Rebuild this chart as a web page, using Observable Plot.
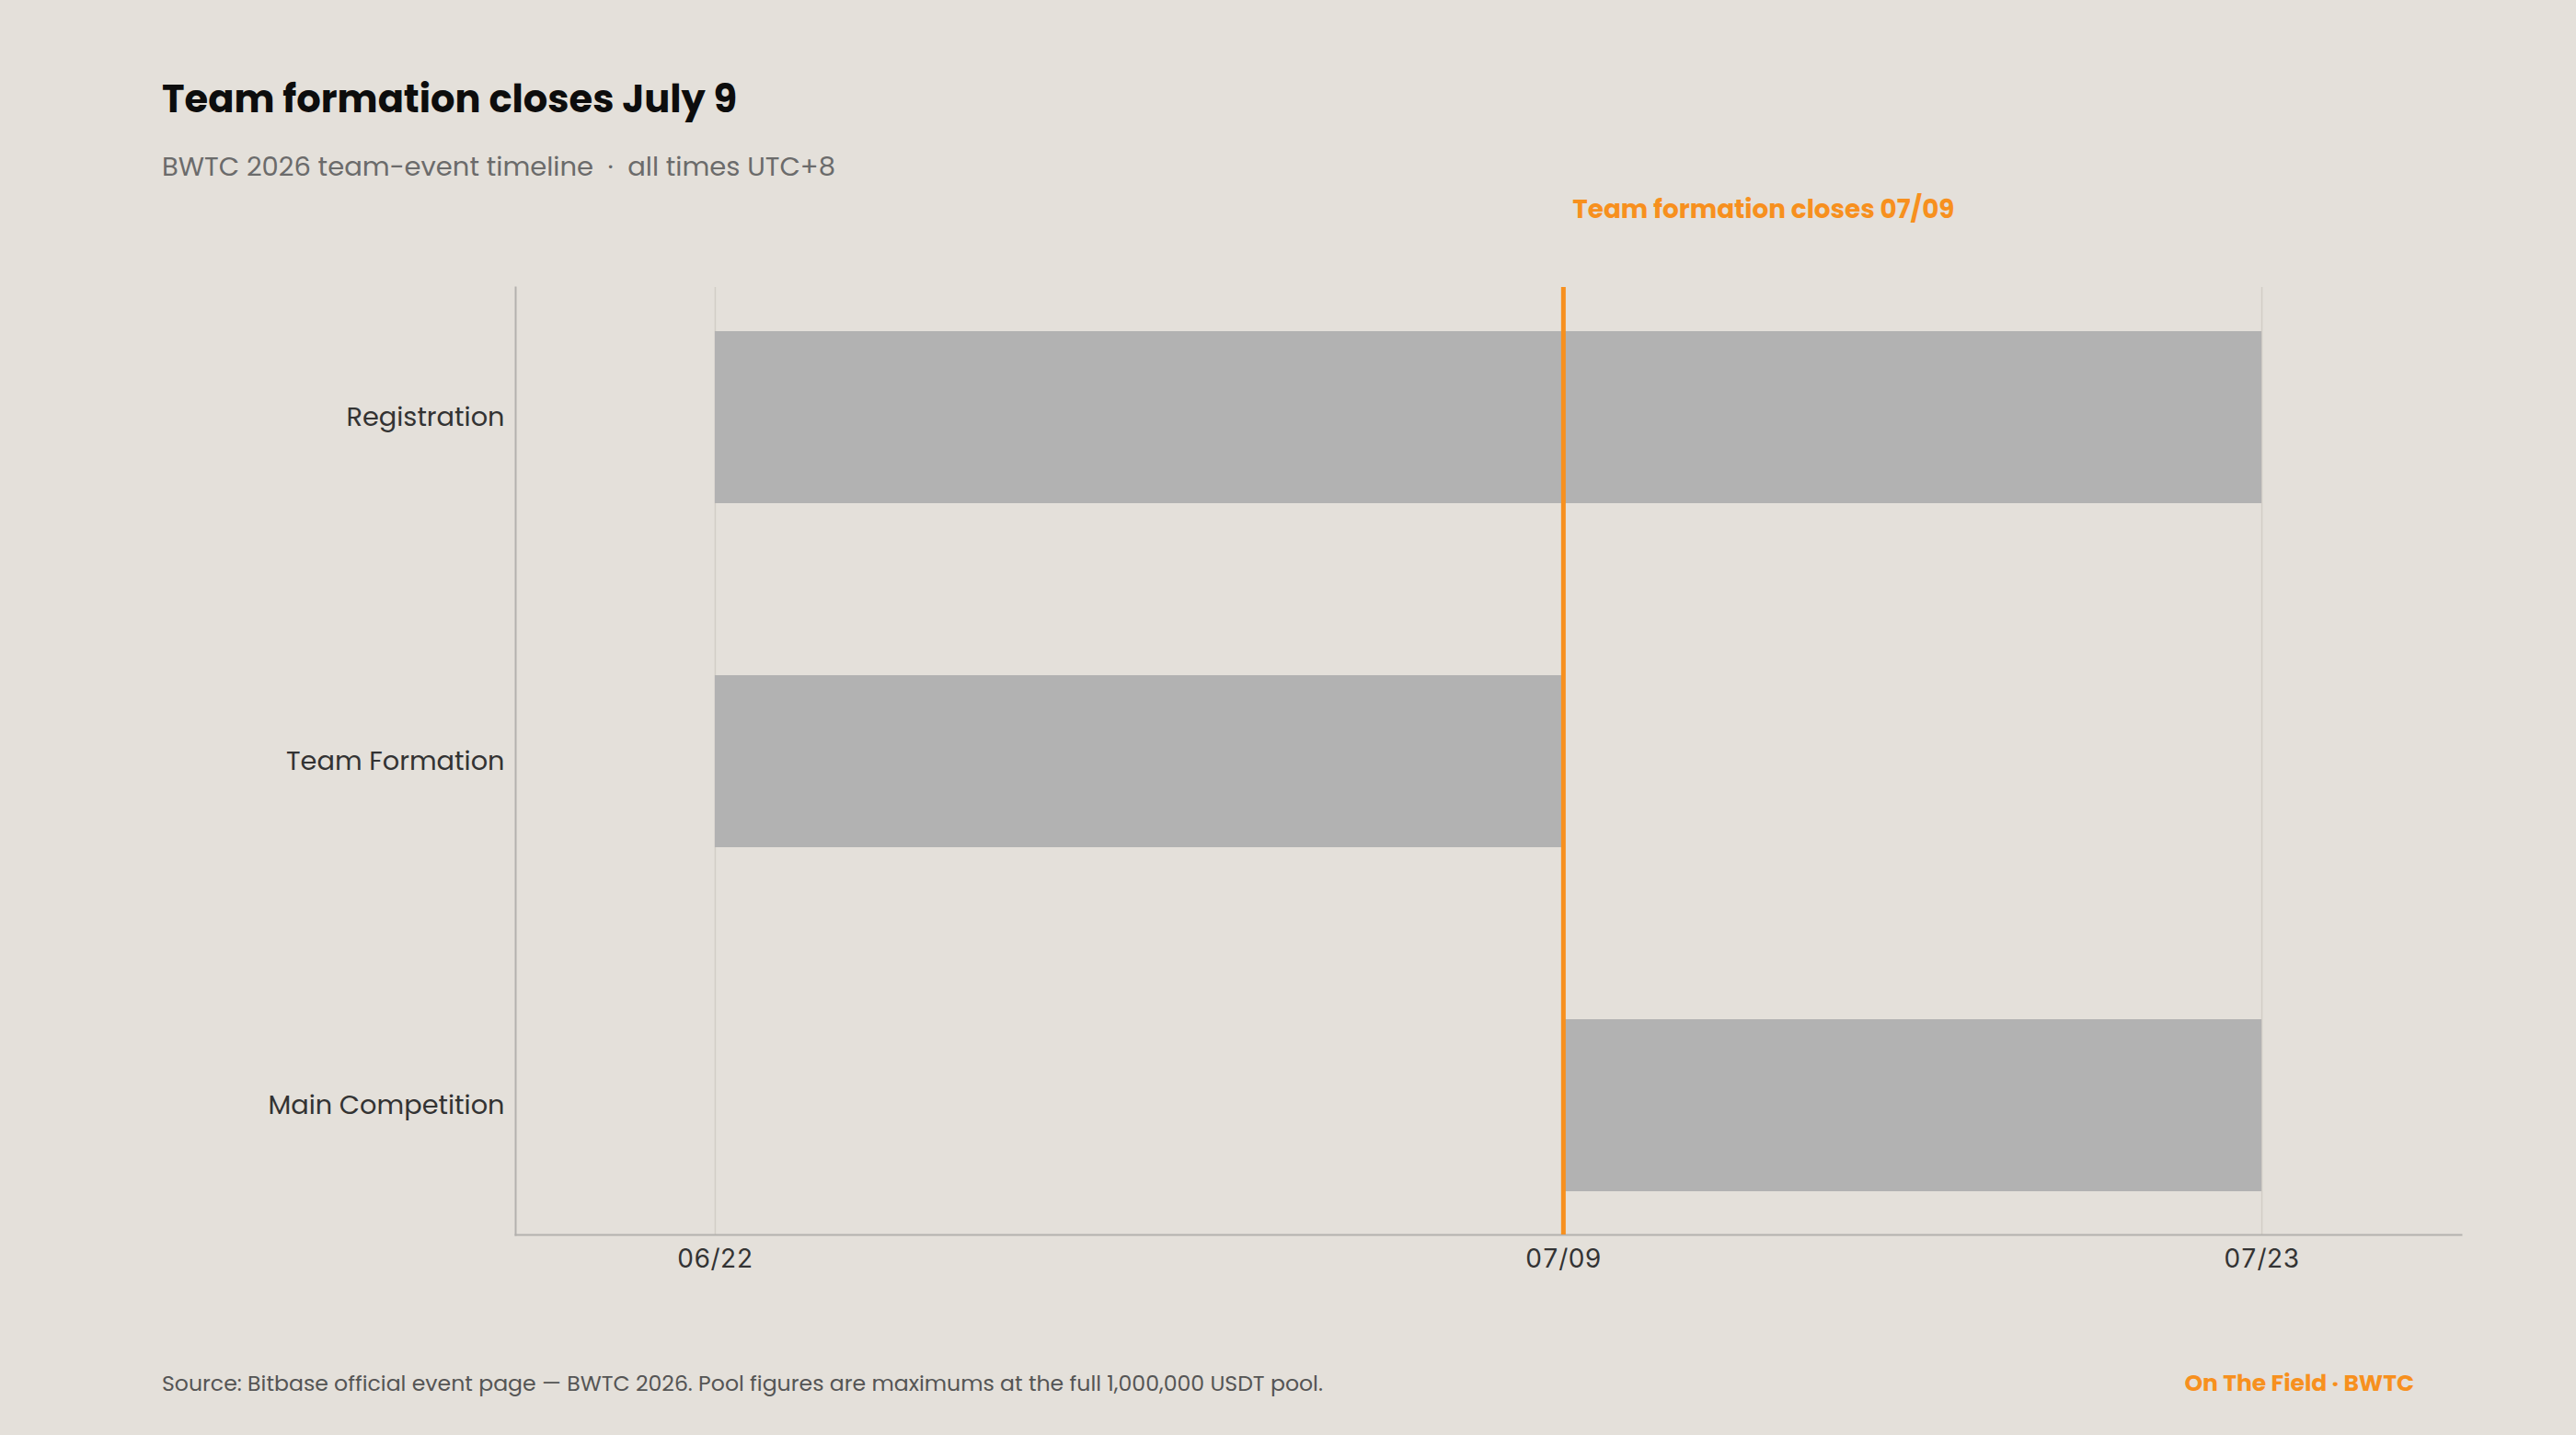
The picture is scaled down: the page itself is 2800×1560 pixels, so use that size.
<!DOCTYPE html>
<html>
<head>
<meta charset="utf-8">
<script src="https://cdn.jsdelivr.net/npm/d3@7"></script>
<script src="https://cdn.jsdelivr.net/npm/@observablehq/plot@0.6"></script>
<style>
  html, body { margin: 0; padding: 0; background: #e4e0da; width: 2800px; height: 1560px; overflow: hidden; }
  body { position: relative; font-family: Poppins, "Open Sans", sans-serif; }
  #header { position: relative; height: 200px; }
  #title { position: absolute; left: 176px; top: 87px; font-size: 41.6px; line-height: 1; font-weight: 700; color: #0d0d0d; white-space: nowrap; }
  #subtitle { position: absolute; left: 176px; top: 167px; font-size: 29px; line-height: 1; color: #6b6b6b; white-space: pre; }
  #source { position: absolute; left: 176px; top: 1492px; font-size: 23.6px; line-height: 1; color: #555; white-space: nowrap; }
  #brand { position: absolute; right: 176px; top: 1491px; font-size: 25px; line-height: 1; font-weight: 700; color: #f7901e; white-space: nowrap; }
  #chart svg { display: block; }
</style>
</head>
<body>
<div id="header">
  <div id="title">Team formation closes July 9</div>
  <div id="subtitle">BWTC 2026 team-event timeline  ·  all times UTC+8</div>
</div>
<div id="chart"></div>
<div id="source">Source: Bitbase official event page — BWTC 2026. Pool figures are maximums at the full 1,000,000 USDT pool.</div>
<div id="brand">On The Field · BWTC</div>
<script>
// ---- data ----
const tasks = ["Registration", "Team Formation", "Main Competition"];
const starts = ["2026-06-22", "2026-06-22", "2026-07-09"];
const ends = ["2026-07-23", "2026-07-09", "2026-07-23"];
const tickDates = ["2026-06-22", "2026-07-09", "2026-07-23"];
const xDomain = ["2026-06-18", "2026-07-27"];
const markerDate = "2026-07-09";
const markerLabel = "Team formation closes 07/09";

const parse = d3.utcParse("%Y-%m-%d");
const rows = tasks.map((t, i) => ({task: t, start: parse(starts[i]), end: parse(ends[i])}));
const ticks = tickDates.map(parse);
const marker = [{date: parse(markerDate), label: markerLabel}];
const fmt = d3.utcFormat("%m/%d");

const orange = "#f7901e";
const font = 'Poppins, "Open Sans", sans-serif';

const chart = Plot.plot({
  width: 2800,
  height: 1240,
  marginTop: 112,
  marginBottom: 98,
  marginLeft: 560,
  marginRight: 125,
  style: {background: "transparent", fontFamily: font},
  x: {type: "utc", domain: xDomain.map(parse), ticks: ticks, tickFormat: fmt},
  y: {domain: tasks, paddingInner: 0.5, paddingOuter: 0.125},
  marks: [
    Plot.gridX(ticks, {stroke: "#d2cdc6", strokeOpacity: 1, strokeWidth: 1.5}),
    Plot.barX(rows, {x1: "start", x2: "end", y: "task", fill: "#b2b2b2"}),
    Plot.frame({anchor: "left", stroke: "#b3b1ae", strokeWidth: 2}),
    Plot.frame({anchor: "bottom", stroke: "#b3b1ae", strokeWidth: 2}),
    Plot.ruleX(marker, {x: "date", stroke: orange, strokeWidth: 5}),
    Plot.text(marker, {x: "date", text: "label", frameAnchor: "top", textAnchor: "start", lineAnchor: "bottom", dx: 10, dy: -76, fill: orange, fontSize: 27.8, fontWeight: 700, fontFamily: font}),
    Plot.axisX(ticks, {tickSize: 0, tickPadding: 16, tickFormat: fmt, fontSize: 28, fontFamily: "Inter, sans-serif", fill: "#333", label: null}),
    Plot.axisY({tickSize: 0, tickPadding: 12, fontSize: 28.8, fontFamily: font, fill: "#333", label: null})
  ]
});
document.getElementById("chart").appendChild(chart);
</script>
</body>
</html>
